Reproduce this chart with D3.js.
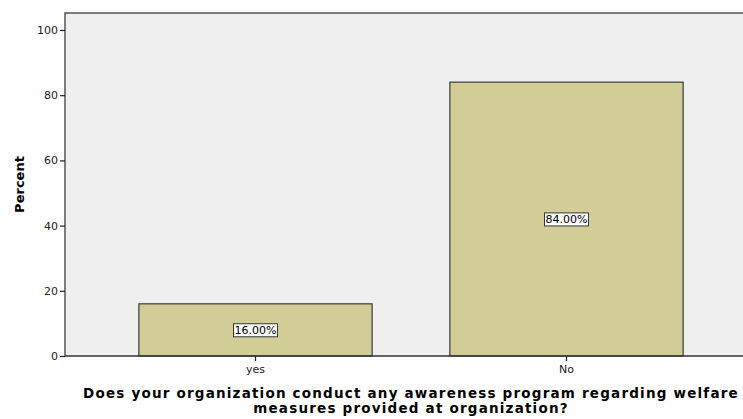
<!DOCTYPE html>
<html>
<head>
<meta charset="utf-8">
<script src="https://cdn.jsdelivr.net/npm/d3@7"></script>
<style>
  body { margin: 0; background: #fff; }
  svg text { font-family: "DejaVu Sans", Verdana, sans-serif; }
</style>
</head>
<body>
<script>
// data
var categories = ["yes", "No"];
var percents = [16, 84];
var yTicks = [0, 20, 40, 60, 80, 100];
var xTitle = ["Does your organization conduct any awareness program regarding welfare",
              "measures provided at organization?"];

var w = 743;
var h = 419;

// plot frame
var plotL = 65, plotT = 13, plotR = 743, plotB = 356;

var svg = d3.select("body").append("svg").attr("width", w).attr("height", h);

var y = d3.scaleLinear().domain([0, 100]).range([plotB, 30]);
var x = d3.scaleBand().domain(categories).range([100, 722])
  .paddingInner(0.25).paddingOuter(0.125);

// background
svg.append("rect")
  .attr("x", plotL).attr("y", plotT)
  .attr("width", plotR - plotL).attr("height", plotB - plotT)
  .attr("fill", "#efefef");

// bars
svg.selectAll("rect.bar").data(percents).enter().append("rect")
  .attr("class", "bar")
  .attr("x", function(d, i){ return x(categories[i]); })
  .attr("y", function(d){ return y(d); })
  .attr("width", x.bandwidth())
  .attr("height", function(d){ return plotB - y(d); })
  .attr("fill", "#d2cd96")
  .attr("stroke", "#3a3a3a")
  .attr("stroke-width", 1.2);

// frame lines (left + top)
svg.append("path")
  .attr("d", "M" + plotL + "," + plotB + "V" + plotT + "H" + plotR)
  .attr("fill", "none").attr("stroke", "#555").attr("stroke-width", 1.5);

// y axis
var yAxis = svg.append("g")
  .attr("transform", "translate(" + plotL + ",0)")
  .call(d3.axisLeft(y).tickValues(yTicks).tickSize(5).tickPadding(2));
yAxis.select(".domain").remove();
yAxis.selectAll(".tick line").attr("stroke", "#222").attr("stroke-width", 1.2);
yAxis.selectAll("text").attr("font-size", 11).attr("fill", "#222");

// x axis
var xAxis = svg.append("g")
  .attr("transform", "translate(0," + plotB + ")")
  .call(d3.axisBottom(x).tickSize(5).tickPadding(4));
xAxis.select(".domain").remove();
xAxis.selectAll(".tick line").attr("stroke", "#222").attr("stroke-width", 1.2);
xAxis.selectAll("text").attr("font-size", 11).attr("fill", "#222");

// baseline
svg.append("line")
  .attr("x1", plotL).attr("x2", plotR)
  .attr("y1", plotB).attr("y2", plotB)
  .attr("stroke", "#333").attr("stroke-width", 1.5);

// value labels with boxes
var labels = svg.selectAll("g.lab").data(percents).enter().append("g")
  .attr("class", "lab")
  .attr("transform", function(d, i){
    return "translate(" + (x(categories[i]) + x.bandwidth() / 2) + "," + ((y(d) + plotB) / 2) + ")";
  });
labels.append("text")
  .attr("text-anchor", "middle")
  .attr("dy", "0.35em")
  .attr("font-size", 11)
  .attr("fill", "#000")
  .text(function(d){ return d.toFixed(2) + "%"; });
labels.each(function(){
  var g = d3.select(this);
  var b = g.select("text").node().getBBox();
  g.insert("rect", "text")
    .attr("x", b.x - 1).attr("y", b.y)
    .attr("width", b.width + 2).attr("height", b.height)
    .attr("fill", "#fff").attr("stroke", "#333").attr("stroke-width", 1);
});

// axis titles
svg.append("text")
  .attr("transform", "translate(24," + ((plotT + plotB) / 2) + ") rotate(-90)")
  .attr("text-anchor", "middle")
  .attr("font-size", 13).attr("font-weight", "bold")
  .text("Percent");

svg.selectAll("text.xt").data(xTitle).enter().append("text")
  .attr("class", "xt")
  .attr("x", 411)
  .attr("y", function(d, i){ return 398 + i * 14.5; })
  .attr("text-anchor", "middle")
  .attr("font-size", 13.5).attr("font-weight", "bold")
  .attr("letter-spacing", 1.2)
  .text(function(d){ return d; });
</script>
</body>
</html>
